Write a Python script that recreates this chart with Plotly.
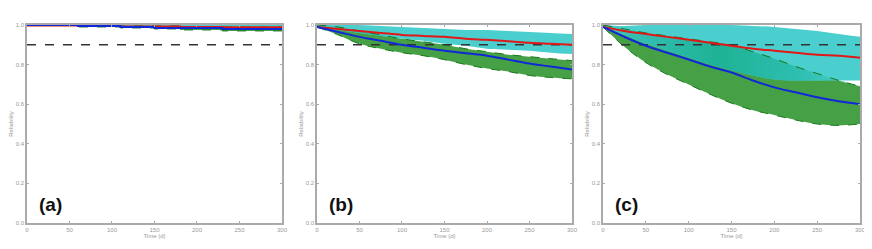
import plotly.graph_objects as go

# ---- data ----
t_a = [0, 40, 60, 110, 150, 180, 230, 300]
red_a = [0.998, 0.998, 0.995, 0.993, 0.993, 0.99, 0.988, 0.987]
blue_a = [1.0, 1.0, 0.995, 0.99, 0.985, 0.985, 0.98, 0.978]
green_lo_a = [1.0, 0.998, 0.99, 0.985, 0.98, 0.975, 0.97, 0.968]
green_hi_a = [1.0, 1.0, 1.0, 0.995, 0.995, 0.99, 0.99, 0.99]
cyan_lo_a = [0.998, 0.995, 0.993, 0.99, 0.99, 0.985, 0.983, 0.982]
cyan_hi_a = [1.0, 1.0, 1.0, 1.0, 1.0, 1.0, 1.0, 1.0]

t_bc = [0, 25, 50, 75, 100, 125, 150, 175, 200, 225, 250, 275, 300]
red_b = [0.99, 0.98, 0.97, 0.96, 0.95, 0.945, 0.94, 0.93, 0.925, 0.918, 0.91, 0.905, 0.90]
blue_b = [0.99, 0.965, 0.94, 0.92, 0.90, 0.885, 0.87, 0.857, 0.845, 0.825, 0.805, 0.79, 0.775]
green_hi_b = [1.0, 0.99, 0.97, 0.95, 0.93, 0.915, 0.90, 0.88, 0.865, 0.85, 0.84, 0.83, 0.82]
green_lo_b = [0.99, 0.95, 0.905, 0.88, 0.86, 0.845, 0.825, 0.80, 0.78, 0.765, 0.745, 0.735, 0.728]
cyan_hi_b = [1.0, 1.0, 1.0, 0.995, 0.99, 0.985, 0.98, 0.975, 0.975, 0.97, 0.965, 0.96, 0.955]
cyan_lo_b = [0.99, 0.975, 0.96, 0.945, 0.93, 0.92, 0.905, 0.895, 0.88, 0.875, 0.87, 0.86, 0.853]

red_c = [0.99, 0.97, 0.955, 0.94, 0.925, 0.91, 0.895, 0.88, 0.87, 0.86, 0.85, 0.845, 0.835]
blue_c = [0.99, 0.94, 0.895, 0.86, 0.826, 0.79, 0.76, 0.72, 0.685, 0.66, 0.635, 0.615, 0.60]
green_hi_c = [1.0, 0.98, 0.96, 0.945, 0.93, 0.915, 0.898, 0.865, 0.83, 0.79, 0.755, 0.72, 0.69]
green_lo_c = [0.99, 0.89, 0.81, 0.75, 0.70, 0.65, 0.605, 0.57, 0.545, 0.52, 0.50, 0.493, 0.50]
cyan_hi_c = [1.0, 0.995, 1.0, 1.0, 1.0, 1.0, 1.0, 0.995, 0.99, 0.98, 0.97, 0.955, 0.94]
cyan_lo_c = [0.99, 0.95, 0.905, 0.87, 0.835, 0.80, 0.77, 0.745, 0.725, 0.72, 0.72, 0.72, 0.72]

threshold = 0.9
x_ticks = [0, 50, 100, 150, 200, 250, 300]
y_ticks = [0.0, 0.2, 0.4, 0.6, 0.8, 1.0]
y_tick_text = ["0.0", "0.2", "0.4", "0.6", "0.8", "1.0"]
panel_labels = ["(a)", "(b)", "(c)"]

panels = [
    (t_a, red_a, blue_a, green_lo_a, green_hi_a, cyan_lo_a, cyan_hi_a, "hv"),
    (t_bc, red_b, blue_b, green_lo_b, green_hi_b, cyan_lo_b, cyan_hi_b, "spline"),
    (t_bc, red_c, blue_c, green_lo_c, green_hi_c, cyan_lo_c, cyan_hi_c, "spline"),
]

x_domains = [(0.022, 0.3171), (0.3576, 0.6528), (0.6887, 0.9861)]
y_domain = (0.1079, 0.9295)

GREEN = "rgb(70,160,70)"
CYAN = "rgb(75,206,206)"
EDGE = "rgb(20,120,20)"

fig = go.Figure()
for i, (t, red, blue, glo, ghi, clo, chi, shp) in enumerate(panels):
    xa = "x" if i == 0 else f"x{i+1}"
    ya = "y" if i == 0 else f"y{i+1}"
    lk = dict(shape=shp)
    common = dict(mode="lines", xaxis=xa, yaxis=ya, showlegend=False, hoverinfo="skip")
    # green band
    fig.add_trace(go.Scatter(x=t, y=ghi, line=dict(width=0, **lk), **common))
    fig.add_trace(go.Scatter(x=t, y=glo, fill="tonexty", fillcolor=GREEN,
                             line=dict(width=0, **lk), **common))
    # cyan band
    fig.add_trace(go.Scatter(x=t, y=chi, line=dict(width=0, **lk), **common))
    fig.add_trace(go.Scatter(x=t, y=clo, fill="tonexty", fillcolor=CYAN,
                             line=dict(width=0, **lk), **common))
    # overlap of the two bands (teal shading)
    ov_hi = [min(a, b) for a, b in zip(ghi, chi)]
    ov_lo = [min(max(a, b), h) for a, b, h in zip(glo, clo, ov_hi)]
    fig.add_trace(go.Scatter(x=t, y=ov_hi, line=dict(width=0, **lk), **common))
    fig.add_trace(go.Scatter(x=t, y=ov_lo, fill="tonexty",
                             fillgradient=dict(type="horizontal", colorscale=[
                                 [0.0, "rgb(60,195,190)"], [0.45, "rgb(30,178,150)"],
                                 [0.75, "rgb(45,190,175)"], [1.0, "rgb(75,206,206)"]]),
                             line=dict(width=0, **lk), **common))
    # green band edges (dashed)
    for edge in (ghi, glo):
        fig.add_trace(go.Scatter(x=t, y=edge, line=dict(color=EDGE, width=1, dash="dash", **lk),
                                 **common))
    # threshold
    fig.add_trace(go.Scatter(x=[0, 300], y=[threshold, threshold],
                             line=dict(color="#333333", width=1.5, dash="dash"), **common))
    # mean lines
    fig.add_trace(go.Scatter(x=t, y=red, line=dict(color="#e01818", width=2, **lk), **common))
    fig.add_trace(go.Scatter(x=t, y=blue, line=dict(color="#1028d8", width=2, **lk), **common))

    ax_common = dict(showline=True, linecolor="#aaaaaa", linewidth=1.5, mirror="ticks",
                     showgrid=False, zeroline=False, ticks="inside", ticklen=2,
                     tickcolor="#aaaaaa", tickfont=dict(size=6, color="#999999"),
                     automargin=False)
    fig.layout[f"xaxis{'' if i == 0 else i+1}"] = dict(
        domain=list(x_domains[i]), range=[0, 300], anchor=ya, tickvals=x_ticks,
        title=dict(text="Time (d)", font=dict(size=6, color="#999999"), standoff=1),
        **ax_common)
    fig.layout[f"yaxis{'' if i == 0 else i+1}"] = dict(
        domain=list(y_domain), range=[0, 1.0], anchor=xa, tickvals=y_ticks,
        ticktext=y_tick_text,
        title=dict(text="Reliability", font=dict(size=6, color="#999999"), standoff=2),
        **ax_common)
    fig.add_annotation(text=f"<b>{panel_labels[i]}</b>", xref=f"{xa} domain", yref=f"{ya} domain",
                       x=0.04, y=0.03, xanchor="left", yanchor="bottom", showarrow=False,
                       font=dict(size=19, color="#111111", family="Liberation Sans"))

fig.update_layout(width=864, height=241, margin=dict(l=0, r=0, t=0, b=0),
                  paper_bgcolor="white", plot_bgcolor="white",
                  font=dict(family="Liberation Sans"))
fig.write_html("out.html")
